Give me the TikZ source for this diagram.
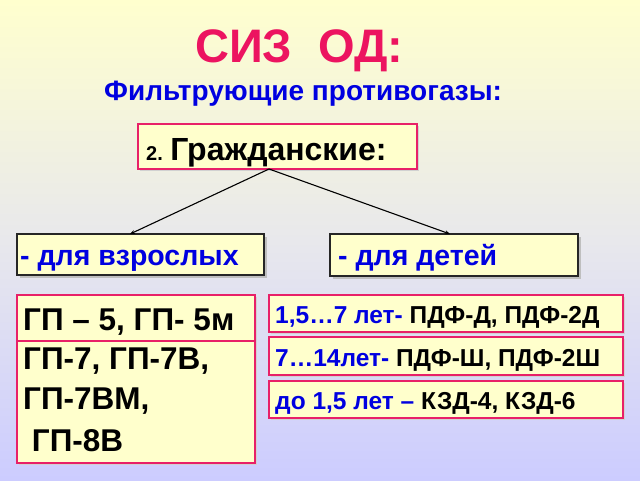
\documentclass[tikz,border=0pt]{standalone}
\usepackage{fontspec}
\setmainfont{Liberation Sans}
\usetikzlibrary{shadows,arrows.meta}
\definecolor{bgtop}{RGB}{255,255,206}
\definecolor{bgmid}{RGB}{232,232,236}
\definecolor{bgbot}{RGB}{204,204,255}
\definecolor{boxfill}{RGB}{255,255,204}
\definecolor{pinkline}{RGB}{232,32,104}
\definecolor{titlered}{RGB}{236,20,96}
\definecolor{txtblue}{RGB}{0,0,224}
\tikzset{
  pinkbox/.style={draw=pinkline, line width=1.8pt, fill=boxfill, inner sep=0pt,
    drop shadow={shadow xshift=1.5pt, shadow yshift=-1.5pt, fill=black!18, opacity=1}},
  blackbox/.style={draw=black!85, line width=1.9pt, fill=boxfill, inner sep=0pt,
    drop shadow={shadow xshift=2.5pt, shadow yshift=-2.5pt, fill=black!25, opacity=1}},
  txt/.style={anchor=base west, inner sep=0pt, font=\bfseries},
  link/.style={line width=1.1pt, -{Stealth[length=5pt,width=4pt]}}
}
\begin{document}
\begin{tikzpicture}[x=1pt,y=-1pt]
\shade[top color=bgtop, bottom color=bgbot, middle color=bgmid] (0,0) rectangle (640,480);
\useasboundingbox (0,0) rectangle (640,480);
% title
\node[txt, text=titlered, font=\bfseries\fontsize{47}{47}\selectfont] (title) at (195,62) {СИЗ\ \ ОД:};
\node[txt, text=txtblue, font=\bfseries\fontsize{28}{28}\selectfont] (sub) at (104,100) {Фильтрующие противогазы:};
% top box
\node[pinkbox, minimum width=279pt, minimum height=45pt] (civ) at (277.5,146.5) {};
\node[txt, font=\bfseries\fontsize{20}{20}\selectfont] (civtxt) at (146,160) {2. {\fontsize{32}{32}\selectfont Гражданские:}};
% level 2
\node[blackbox, minimum width=247pt, minimum height=41pt] (adult) at (140.5,254.5) {};
\node[blackbox, minimum width=248pt, minimum height=42pt] (child) at (454,255) {};
\node[txt, text=txtblue, font=\bfseries\fontsize{28.5}{28.5}\selectfont] (adulttxt) at (20,265) {- для взрослых};
\node[txt, text=txtblue, font=\bfseries\fontsize{28.5}{28.5}\selectfont] (childtxt) at (338,265) {- для детей};
% connectors
\coordinate (apex) at (269,169);
\coordinate (adultin) at (130,234);
\coordinate (childin) at (450,234);
\draw[link] (apex) -- (adultin);
\draw[link] (apex) -- (childin);
% left boxes
\node[pinkbox, minimum width=238pt, minimum height=46pt] (gp5) at (136,318) {};
\node[pinkbox, minimum width=238pt, minimum height=122pt] (gp7) at (136,402) {};
\node[txt, font=\bfseries\fontsize{31.5}{31.5}\selectfont] (gp5txt) at (23,330) {ГП – 5, ГП- 5м};
\node[txt, font=\bfseries\fontsize{31.5}{31.5}\selectfont] (gp7a) at (23,369) {ГП-7, ГП-7В,};
\node[txt, font=\bfseries\fontsize{31.5}{31.5}\selectfont] (gp7b) at (23,409) {ГП-7ВМ,};
\node[txt, font=\bfseries\fontsize{31.5}{31.5}\selectfont] (gp7c) at (23,451) {\ ГП-8В};
% right boxes
\node[pinkbox, minimum width=354pt, minimum height=37pt] (r1) at (446,313.5) {};
\node[pinkbox, minimum width=354pt, minimum height=38pt] (r2) at (446,356) {};
\node[pinkbox, minimum width=354pt, minimum height=37pt] (r3) at (446,399.5) {};
\node[txt, font=\bfseries\fontsize{24.5}{24.5}\selectfont] (r1txt) at (275,323) {\textcolor{txtblue}{1,5…7 лет-} ПДФ-Д, ПДФ-2Д};
\node[txt, font=\bfseries\fontsize{24.5}{24.5}\selectfont] (r2txt) at (275,366) {\textcolor{txtblue}{7…14лет-} ПДФ-Ш, ПДФ-2Ш};
\node[txt, font=\bfseries\fontsize{24.5}{24.5}\selectfont] (r3txt) at (275,409) {\textcolor{txtblue}{до 1,5 лет –} КЗД-4, КЗД-6};
\end{tikzpicture}
\end{document}
